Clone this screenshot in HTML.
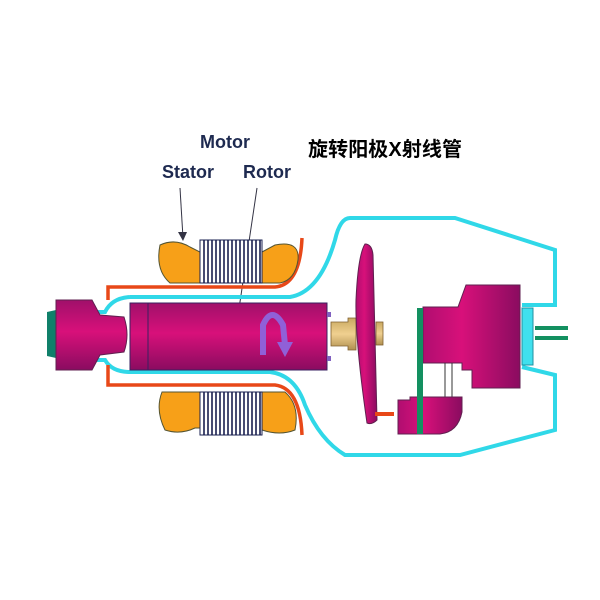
<!DOCTYPE html>
<html><head><meta charset="utf-8"><style>html,body{margin:0;padding:0;background:#fff}svg{display:block}</style></head><body>
<svg width="600" height="600" viewBox="0 0 600 600" xmlns="http://www.w3.org/2000/svg">
<defs>
<linearGradient id="mg" x1="0" y1="0" x2="0" y2="1"><stop offset="0" stop-color="#a0106a"/><stop offset="0.45" stop-color="#d8107a"/><stop offset="1" stop-color="#8a0c60"/></linearGradient>
<linearGradient id="mh" x1="0" y1="0" x2="1" y2="0"><stop offset="0" stop-color="#b00e70"/><stop offset="0.4" stop-color="#d8107a"/><stop offset="1" stop-color="#8a0c60"/></linearGradient>
<linearGradient id="gd" x1="0" y1="0" x2="0" y2="1"><stop offset="0" stop-color="#c8a860"/><stop offset="0.5" stop-color="#f0d090"/><stop offset="1" stop-color="#b09050"/></linearGradient>
</defs>
<g font-family="Liberation Sans, sans-serif" font-weight="bold" font-size="18" fill="#1e2a50">
<text x="200" y="148">Motor</text>
<text x="162" y="178">Stator</text>
<text x="243" y="178">Rotor</text>
</g>
<text x="308" y="156" font-family="'Liberation Sans','Noto Sans CJK SC',sans-serif" font-weight="bold" font-size="20" fill="#000" textLength="154">旋转阳极X射线管</text>
<line x1="180" y1="188" x2="183" y2="238" stroke="#334" stroke-width="1"/>
<path d="M178,232 L183,241 L187,232 Z" fill="#334"/>
<line x1="257" y1="188" x2="237" y2="322" stroke="#334" stroke-width="1"/>
<circle cx="237" cy="324" r="2" fill="#445"/>
<path d="M130,297 L290,297 Q320,292 335,240 Q340,218 350,218 L455,218 L555,250 L555,305 L522,305 M522,367 L555,375 L555,430 L460,455 L345,455 Q320,440 305,405 Q295,375 270,372 L130,372 M130,297 Q112,298 105,312 L97,312 M130,372 Q112,372 105,360 L97,360" fill="none" stroke="#30d8e8" stroke-width="4"/>
<path d="M108,300 L108,287 L275,287 Q300,285 302,238" fill="none" stroke="#e84818" stroke-width="3.5"/>
<path d="M108,365 L108,385 L275,385 Q300,388 302,435" fill="none" stroke="#e84818" stroke-width="3.5"/>
<path d="M160,245 Q175,238 190,247 L200,252 L200,283 L170,283 Q155,270 160,245 Z M262,252 L275,245 Q300,240 298,260 Q295,280 280,283 L262,283 Z" fill="#f7a018" stroke="#553" stroke-width="1"/>
<path d="M162,392 L200,392 L200,428 L195,428 Q180,435 165,430 Q155,410 162,392 Z M262,392 L285,392 Q300,405 295,430 Q280,436 262,430 Z" fill="#f7a018" stroke="#553" stroke-width="1"/>
<g>
<rect x="200" y="240" width="62" height="43" fill="#fff" stroke="#1a2050" stroke-width="1"/>
<rect x="200" y="392" width="62" height="43" fill="#fff" stroke="#1a2050" stroke-width="1"/>
<path d="M204,240V283M208,240V283M212,240V283M216,240V283M220,240V283M224,240V283M228,240V283M232,240V283M236,240V283M240,240V283M244,240V283M248,240V283M252,240V283M256,240V283M260,240V283M204,392V435M208,392V435M212,392V435M216,392V435M220,392V435M224,392V435M228,392V435M232,392V435M236,392V435M240,392V435M244,392V435M248,392V435M252,392V435M256,392V435M260,392V435" stroke="#1a2050" stroke-width="1.6"/>
</g>
<path d="M47,312 L56,310 L56,358 L47,356 Z" fill="#10806a"/>
<path d="M56,300 L92,300 L100,315 L124,317 Q130,335 124,352 L100,355 L92,370 L56,370 Z" fill="url(#mg)" stroke="#602050" stroke-width="1"/>
<rect x="130" y="303" width="197" height="67" fill="url(#mg)" stroke="#3a2060" stroke-width="1"/>
<rect x="130" y="303" width="18" height="67" fill="none" stroke="#3a2060" stroke-width="1"/>
<rect x="327" y="312" width="4" height="5" fill="#8060c0"/><rect x="327" y="356" width="4" height="5" fill="#8060c0"/>
<path d="M263,355 L263,325 Q272,305 283,325 L285,345" fill="none" stroke="#9060d8" stroke-width="6"/>
<path d="M277,342 L285,357 L293,342 Z" fill="#9060d8"/>
<path d="M331,322 L348,322 L348,318 L356,318 L356,350 L348,350 L348,346 L331,346 Z" fill="url(#gd)" stroke="#806030" stroke-width="0.8"/>
<rect x="376" y="322" width="7" height="23" fill="url(#gd)" stroke="#806030" stroke-width="0.8"/>
<path d="M365,244 Q372,244 373,255 L377,420 Q372,425 367,423 Q355,340 356,300 Q358,255 365,244 Z" fill="url(#mh)" stroke="#602050" stroke-width="1"/>
<rect x="375" y="412" width="19" height="4" fill="#e84818"/>
<path d="M423,307 L458,307 L466,285 L520,285 L520,388 L472,388 L472,370 L462,370 L462,363 L423,363 Z" fill="url(#mh)" stroke="#602050" stroke-width="1"/>
<line x1="445" y1="363" x2="445" y2="398" stroke="#333" stroke-width="1"/>
<line x1="452" y1="363" x2="452" y2="398" stroke="#333" stroke-width="1"/>
<path d="M398,400 L410,400 L410,397 L462,397 L462,412 Q458,432 440,434 L398,434 Z" fill="url(#mh)" stroke="#602050" stroke-width="1"/>
<rect x="417" y="308" width="6" height="126" fill="#139060"/>
<rect x="522" y="308" width="11" height="57" fill="#40e0ee" stroke="#2090a0" stroke-width="1"/>
<rect x="535" y="326" width="33" height="4" fill="#139060"/>
<rect x="535" y="336" width="33" height="4" fill="#139060"/>
</svg>
</body></html>
